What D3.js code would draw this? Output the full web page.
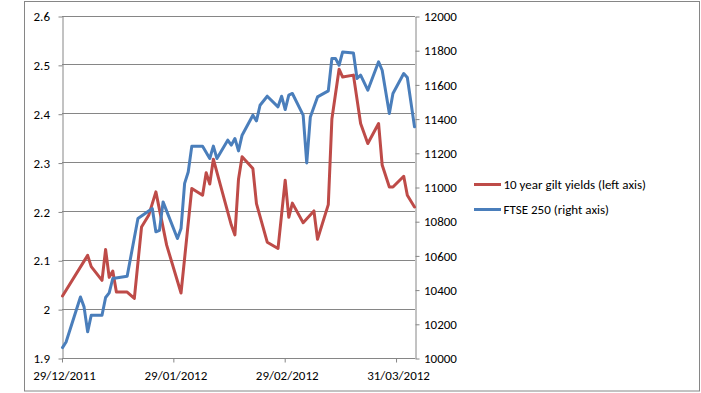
<!DOCTYPE html>
<html>
<head>
<meta charset="utf-8">
<script src="https://cdn.jsdelivr.net/npm/d3@7"></script>
<style>
  html, body { margin: 0; padding: 0; background: #fff; }
  svg { display: block; }
  text { font-family: Carlito, Calibri, Lato, sans-serif; font-size: 13px; fill: #000; }
</style>
</head>
<body>
<svg id="chart" width="701" height="393"></svg>
<script>
// ---------------- data ----------------
const giltDates = ["2011-12-29","2012-01-05","2012-01-06","2012-01-09","2012-01-10","2012-01-11","2012-01-12","2012-01-13","2012-01-16","2012-01-18","2012-01-20","2012-01-22","2012-01-24","2012-01-27","2012-01-31","2012-02-03","2012-02-06","2012-02-07","2012-02-08","2012-02-09","2012-02-14","2012-02-15","2012-02-16","2012-02-17","2012-02-20","2012-02-21","2012-02-24","2012-02-27","2012-02-29","2012-03-01","2012-03-02","2012-03-05","2012-03-08","2012-03-09","2012-03-12","2012-03-13","2012-03-15","2012-03-16","2012-03-19","2012-03-21","2012-03-23","2012-03-26","2012-03-27","2012-03-29","2012-03-30","2012-04-02","2012-04-03","2012-04-05"];
const giltYields = [2.026,2.109,2.086,2.058,2.121,2.064,2.077,2.034,2.034,2.021,2.167,2.191,2.239,2.130,2.032,2.246,2.232,2.278,2.255,2.306,2.171,2.151,2.265,2.311,2.287,2.215,2.136,2.123,2.263,2.187,2.216,2.176,2.200,2.142,2.213,2.388,2.490,2.474,2.478,2.379,2.338,2.379,2.294,2.249,2.249,2.271,2.232,2.208];

const ftseDates = ["2011-12-29","2011-12-30","2012-01-03","2012-01-04","2012-01-05","2012-01-06","2012-01-09","2012-01-10","2012-01-11","2012-01-12","2012-01-16","2012-01-19","2012-01-23","2012-01-24","2012-01-25","2012-01-26","2012-01-30","2012-01-31","2012-02-01","2012-02-02","2012-02-03","2012-02-06","2012-02-08","2012-02-09","2012-02-10","2012-02-13","2012-02-14","2012-02-15","2012-02-16","2012-02-17","2012-02-20","2012-02-21","2012-02-22","2012-02-24","2012-02-27","2012-02-28","2012-02-29","2012-03-01","2012-03-02","2012-03-05","2012-03-06","2012-03-07","2012-03-09","2012-03-12","2012-03-13","2012-03-14","2012-03-15","2012-03-16","2012-03-19","2012-03-20","2012-03-21","2012-03-23","2012-03-26","2012-03-27","2012-03-29","2012-03-30","2012-04-02","2012-04-03","2012-04-05"];
const ftse250 = [10058,10091,10354,10296,10150,10247,10247,10351,10378,10462,10475,10813,10871,10735,10744,10910,10696,10754,11018,11085,11236,11236,11164,11236,11164,11271,11242,11281,11208,11300,11417,11384,11475,11528,11466,11528,11450,11534,11544,11417,11138,11407,11524,11559,11749,11749,11709,11787,11781,11632,11651,11563,11729,11680,11427,11544,11661,11637,11349];

const leftTicks = [1.9, 2.0, 2.1, 2.2, 2.3, 2.4, 2.5, 2.6];
const leftTickLabels = ["1.9","2","2.1","2.2","2.3","2.4","2.5","2.6"];
const rightTicks = [10000,10200,10400,10600,10800,11000,11200,11400,11600,11800,12000];
const xTickDates = ["2011-12-29","2012-01-29","2012-02-29","2012-03-31"];
const xTickLabels = ["29/12/2011","29/01/2012","29/02/2012","31/03/2012"];
const seriesNames = ["10 year gilt yields (left axis)", "FTSE 250 (right axis)"];
const seriesColors = ["#BE4B48", "#4A7EBB"];

// ---------------- layout ----------------
const parse = d3.timeParse("%Y-%m-%d");
const plot = { left: 62, right: 415, top: 15.5, bottom: 357.5 };
const gridColor = "#868686";

const svg = d3.select("#chart");
svg.append("rect").attr("x", 24.5).attr("y", 1.5).attr("width", 675).attr("height", 389.5)
  .attr("fill", "#fff").attr("stroke", gridColor).attr("stroke-width", 1);

const x = d3.scaleTime()
  .domain([parse("2011-12-29"), parse("2012-04-05")])
  .range([plot.left + 0.5, plot.right - 0.5]);
const yL = d3.scaleLinear().domain([1.9, 2.6]).range([plot.bottom, plot.top]);
const yR = d3.scaleLinear().domain([10000, 12000]).range([plot.bottom, plot.top]);

// gridlines
svg.append("g").selectAll("line").data(leftTicks).join("line")
  .attr("x1", plot.left).attr("x2", plot.right)
  .attr("y1", d => Math.round(yL(d)) + 0.5).attr("y2", d => Math.round(yL(d)) + 0.5)
  .attr("stroke", gridColor).attr("stroke-width", 1);

function styleAxis(g) {
  g.select(".domain").attr("stroke", gridColor);
  g.selectAll(".tick line").attr("stroke", gridColor);
  g.selectAll("text").attr("fill", "#000").style("font-size", "13px");
}

// left axis
const yLs = d3.scaleLinear().domain(yL.domain()).range([Math.round(plot.bottom)+0.5, Math.round(plot.top)+0.5]);
svg.append("g").attr("transform", `translate(${plot.left + 0.5},0)`)
  .call(d3.axisLeft(yLs).tickValues(leftTicks).tickFormat((d, i) => leftTickLabels[i])
    .tickSize(4).tickSizeOuter(0).tickPadding(8.5))
  .call(styleAxis);

// right axis
const yRs = d3.scaleLinear().domain(yR.domain()).range([Math.round(plot.bottom)+0.5, Math.round(plot.top)+0.5]);
svg.append("g").attr("transform", `translate(${plot.right + 0.5},0)`)
  .call(d3.axisRight(yRs).tickValues(rightTicks).tickFormat(d3.format("d"))
    .tickSize(4).tickSizeOuter(0).tickPadding(4.5))
  .call(styleAxis);

// bottom axis
const xTicks = xTickDates.map(parse);
svg.append("g").attr("transform", `translate(0,${Math.round(plot.bottom) + 0.5})`)
  .call(d3.axisBottom(x).tickValues(xTicks).tickFormat((d, i) => xTickLabels[i])
    .tickSize(4).tickSizeOuter(0).tickPadding(8))
  .call(g => g.select(".domain").attr("d", `M${plot.left},0H${plot.right}`))
  .call(styleAxis)
  .call(g => g.selectAll(".tick line").attr("transform", "translate(-0.5,0)"))
  .call(g => g.selectAll(".tick text").attr("dx", "1.5"));

// lines
const gilt = giltDates.map((d, i) => ({ date: parse(d), v: giltYields[i] }));
const ftse = ftseDates.map((d, i) => ({ date: parse(d), v: ftse250[i] }));

svg.append("path").datum(gilt)
  .attr("d", d3.line().x(d => x(d.date)).y(d => yL(d.v)))
  .attr("fill", "none").attr("stroke", seriesColors[0]).attr("stroke-width", 3)
  .attr("stroke-linejoin", "round").attr("stroke-linecap", "round");

svg.append("path").datum(ftse)
  .attr("d", d3.line().x(d => x(d.date)).y(d => yR(d.v)))
  .attr("fill", "none").attr("stroke", seriesColors[1]).attr("stroke-width", 3)
  .attr("stroke-linejoin", "round").attr("stroke-linecap", "round");

// legend
const legend = svg.append("g").attr("transform", "translate(474,184.5)");
seriesNames.forEach((name, i) => {
  const g = legend.append("g").attr("transform", `translate(0,${i * 25})`);
  g.append("line").attr("x1", 0).attr("x2", 27).attr("y1", 0).attr("y2", 0)
    .attr("stroke", seriesColors[i]).attr("stroke-width", 3);
  g.append("text").attr("x", 29.5).attr("y", 0).attr("dy", "0.35em").text(name);
});
</script>
</body>
</html>
